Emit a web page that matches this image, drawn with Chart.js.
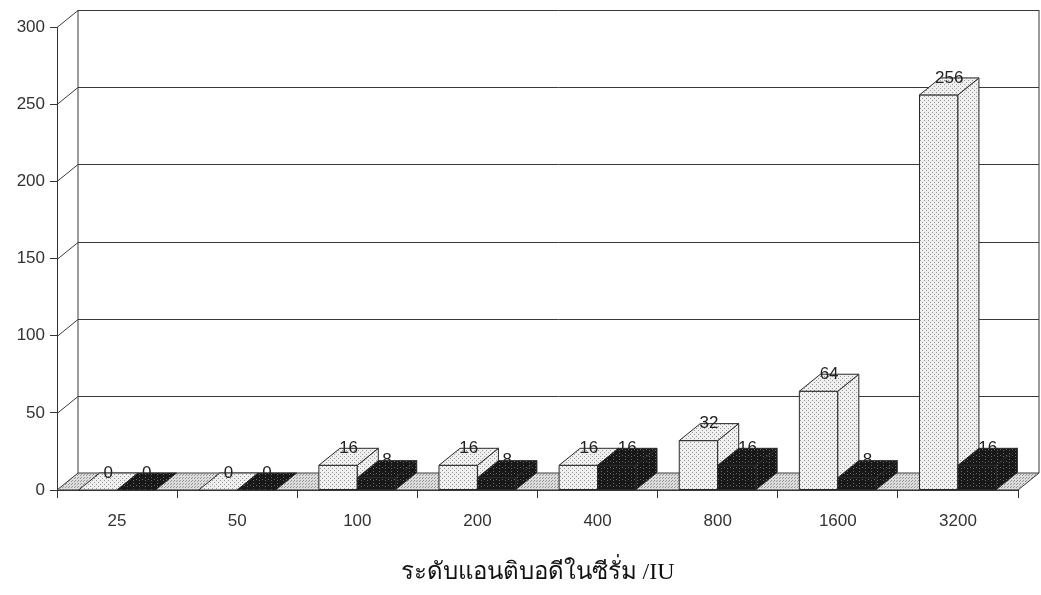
<!DOCTYPE html>
<html>
<head>
<meta charset="utf-8">
<script src="https://cdn.jsdelivr.net/npm/chart.js@4.4.0/dist/chart.umd.min.js"></script>
<style>
  html, body { margin: 0; padding: 0; background: #fff; }
  #wrap { width: 1041px; height: 595px; }
</style>
</head>
<body>
<div id="wrap"><canvas id="titerChart" width="1041" height="595"></canvas></div>
<script>
// ข้อมูลจากกราฟ
const categories = ['25', '50', '100', '200', '400', '800', '1600', '3200'];
const seriesLight = [0, 0, 16, 16, 16, 32, 64, 256];
const seriesDark = [0, 0, 8, 8, 16, 16, 8, 16];
const yTicks = [0, 50, 100, 150, 200, 250, 300];
const axisTitle = 'ระดับแอนติบอดีในซีรั่ม /IU';

// ความลึกของกราฟ 3 มิติ
const DX = 21, DY = 17;

const ctx = document.getElementById('titerChart').getContext('2d');

// สร้างลายจุดให้เหมือนภาพสแกน
function makePattern(base, dot, step, dots) {
    const c = document.createElement('canvas');
    c.width = step; c.height = step;
    const g = c.getContext('2d');
    g.fillStyle = base;
    g.fillRect(0, 0, step, step);
    g.fillStyle = dot;
    dots.forEach(d => g.fillRect(d[0], d[1], 1, 1));
    return ctx.createPattern(c, 'repeat');
}

const lightFill = makePattern('#efefef', '#9a9a9a', 4, [[0, 0], [2, 2]]);
const darkFill = makePattern('#181818', '#6a6a6a', 6, [[1, 0], [1, 3], [4, 5]]);
const floorFill = makePattern('#dcdcdc', '#969696', 3, [[0, 0], [2, 1]]);

function drawBox(c, x0, x1, top, base, fill) {
    c.fillStyle = fill;
    c.strokeStyle = '#2a2a2a';
    c.lineWidth = 1;
    if (base - top > 0.5) {
        // หน้า
        c.beginPath();
        c.rect(x0, top, x1 - x0, base - top);
        c.fill(); c.stroke();
        // ด้านข้าง
        c.beginPath();
        c.moveTo(x1, top);
        c.lineTo(x1 + DX, top - DY);
        c.lineTo(x1 + DX, base - DY);
        c.lineTo(x1, base);
        c.closePath();
        c.fill(); c.stroke();
    }
    // ด้านบน
    c.beginPath();
    c.moveTo(x0, top);
    c.lineTo(x1, top);
    c.lineTo(x1 + DX, top - DY);
    c.lineTo(x0 + DX, top - DY);
    c.closePath();
    c.fill(); c.stroke();
}

function barLabels(chart, idx, values) {
    const c = chart.ctx;
    const meta = chart.getDatasetMeta(idx);
    c.save();
    c.font = '17px "Liberation Sans", Arial, sans-serif';
    c.fillStyle = '#222';
    c.textAlign = 'center';
    c.textBaseline = 'middle';
    meta.data.forEach((el, i) => {
        const p = el.getProps(['x', 'y'], true);
        c.fillText(String(values[i]), p.x + DX / 2, p.y - DY);
    });
    c.restore();
}

const box3d = {
    id: 'box3d',
    beforeDatasetsDraw(chart) {
        const c = chart.ctx;
        const a = chart.chartArea;
        const y = chart.scales.y;
        const bl = a.left + DX, br = a.right + DX;
        c.save();
        c.strokeStyle = '#3a3a3a';
        c.lineWidth = 1;
        c.beginPath();
        yTicks.forEach(v => {
            const py = Math.round(y.getPixelForValue(v)) + 0.5;
            c.moveTo(a.left, py);
            c.lineTo(bl, py - DY);
            c.lineTo(br, py - DY);
        });
        c.moveTo(bl, a.top - DY);
        c.lineTo(bl, a.bottom - DY);
        c.moveTo(br, a.top - DY);
        c.lineTo(br, a.bottom - DY);
        c.stroke();
        // พื้น
        c.beginPath();
        c.moveTo(a.left, a.bottom);
        c.lineTo(a.right, a.bottom);
        c.lineTo(br, a.bottom - DY);
        c.lineTo(bl, a.bottom - DY);
        c.closePath();
        c.fillStyle = floorFill;
        c.fill();
        c.stroke();
        c.restore();
    },
    afterDatasetsDraw(chart) {
        const c = chart.ctx;
        const mLight = chart.getDatasetMeta(0);
        const mDark = chart.getDatasetMeta(1);
        barLabels(chart, 1, seriesDark);
        c.save();
        categories.forEach((cat, i) => {
            [[mLight, lightFill], [mDark, darkFill]].forEach(([m, fill]) => {
                const p = m.data[i].getProps(['x', 'y', 'base', 'width'], true);
                drawBox(c, p.x - p.width / 2, p.x + p.width / 2, p.y, p.base, fill);
            });
        });
        c.restore();
        barLabels(chart, 0, seriesLight);
    }
};

new Chart(ctx, {
    type: 'bar',
    data: {
        labels: categories,
        datasets: [
            { data: seriesLight, backgroundColor: 'rgba(0,0,0,0)', borderWidth: 0 },
            { data: seriesDark, backgroundColor: 'rgba(0,0,0,0)', borderWidth: 0 }
        ]
    },
    options: {
        responsive: false,
        animation: false,
        events: [],
        categoryPercentage: 0.64,
        barPercentage: 1.0,
        layout: { padding: { top: 27, right: 23, left: 0, bottom: 0 } },
        plugins: { legend: { display: false }, tooltip: { enabled: false } },
        scales: {
            x: {
                grid: { drawOnChartArea: false, tickLength: 8, color: '#333' },
                border: { color: '#333' },
                ticks: { color: '#333', padding: 13, font: { family: '"Liberation Sans", Arial, sans-serif', size: 17 } },
                title: {
                    display: true,
                    text: axisTitle,
                    color: '#111',
                    padding: { top: 4, bottom: 8 },
                    font: { family: '"Liberation Serif", "Times New Roman", serif', size: 24 }
                },
                afterFit: s => { s.height = 105; }
            },
            y: {
                min: 0,
                max: 300,
                grid: { drawOnChartArea: false, tickLength: 7, color: '#333' },
                border: { color: '#333' },
                ticks: { color: '#333', padding: 5, font: { family: '"Liberation Sans", Arial, sans-serif', size: 17 } },
                afterBuildTicks: s => { s.ticks = yTicks.map(v => ({ value: v })); },
                afterFit: s => { s.width = 57; }
            }
        }
    },
    plugins: [box3d]
});
</script>
</body>
</html>
